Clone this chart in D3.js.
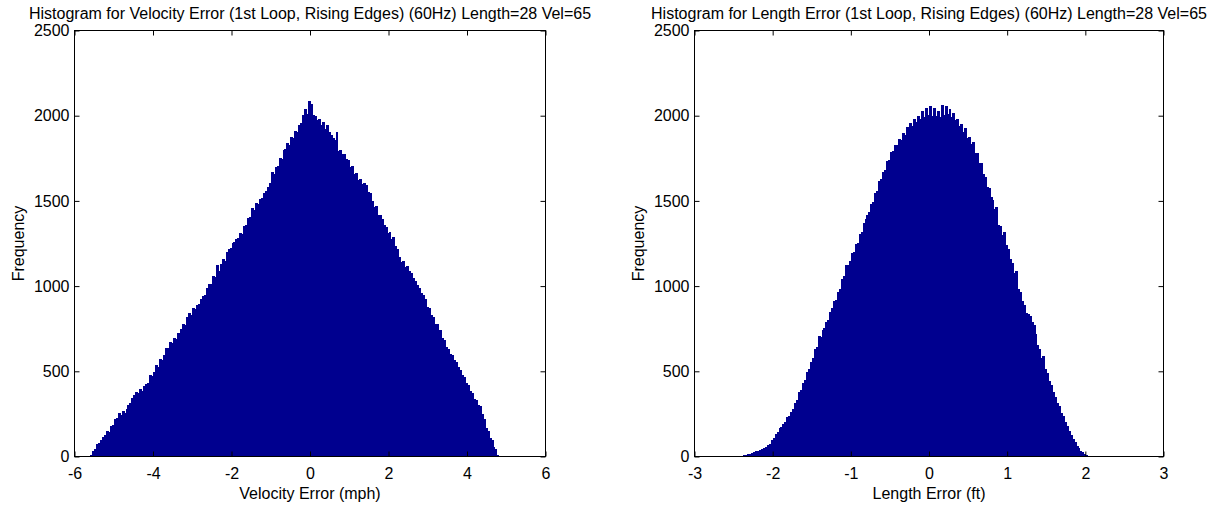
<!DOCTYPE html>
<html><head><meta charset="utf-8">
<script src="https://cdn.jsdelivr.net/npm/d3@7"></script>
<style>
body{margin:0;background:#fff}
text{font-family:"Liberation Sans",Arial,Helvetica,sans-serif;fill:#000}
</style>
</head><body>
<svg id="chart" width="1222" height="507"></svg>
<script>
// ---------- data ----------
const velStart = -5.6, velBinWidth = 0.05;
const velCounts = [
  8, 30, 44, 72, 80, 98, 116, 124, 152, 146,
  180, 184, 220, 226, 258, 246, 266, 256, 280, 300,
  316, 344, 358, 376, 372, 396, 384, 414, 428, 434,
  478, 474, 494, 536, 528, 570, 566, 598, 636, 636,
  670, 668, 698, 692, 724, 726, 746, 780, 770, 816,
  840, 832, 870, 866, 892, 896, 926, 940, 946, 990,
  1014, 1010, 1058, 1052, 1124, 1090, 1130, 1160, 1150, 1200,
  1218, 1226, 1252, 1256, 1276, 1282, 1314, 1308, 1352, 1356,
  1398, 1404, 1460, 1448, 1486, 1482, 1514, 1516, 1548, 1556,
  1584, 1606, 1668, 1656, 1700, 1704, 1750, 1748, 1796, 1802,
  1840, 1830, 1874, 1872, 1912, 1904, 1948, 1960, 2002, 2040,
  2010, 2084, 2070, 2006, 2000, 1976, 1980, 1944, 1962, 1922,
  1946, 1906, 1884, 1872, 1858, 1906, 1794, 1800, 1774, 1776,
  1746, 1740, 1700, 1702, 1656, 1666, 1624, 1630, 1602, 1604,
  1594, 1550, 1546, 1500, 1464, 1468, 1420, 1418, 1396, 1356,
  1346, 1312, 1316, 1278, 1286, 1236, 1218, 1168, 1140, 1150,
  1112, 1118, 1086, 1076, 1050, 1030, 1006, 990, 958, 946,
  926, 880, 874, 830, 816, 780, 780, 742, 742, 696,
  682, 642, 628, 604, 598, 568, 554, 524, 510, 476,
  466, 430, 420, 386, 372, 338, 334, 304, 296, 252,
  222, 170, 150, 108, 94, 56, 42, 10
];
const lenStart = -2.4, lenBinWidth = 0.025;
const lenCounts = [
  4, 9, 11, 15, 17, 23, 25, 32, 33, 39, 42, 49, 53, 66, 76, 98,
  110, 131, 143, 168, 172, 190, 200, 229, 236, 262, 280, 316, 334, 376, 392, 430,
  448, 494, 512, 556, 578, 628, 640, 706, 704, 744, 752, 790, 802, 848, 872, 912,
  920, 966, 982, 1040, 1060, 1122, 1126, 1146, 1192, 1198, 1248, 1254, 1308, 1318, 1370, 1392,
  1420, 1432, 1482, 1494, 1546, 1560, 1618, 1628, 1672, 1684, 1736, 1740, 1786, 1790, 1828, 1826,
  1864, 1858, 1896, 1888, 1932, 1920, 1958, 1942, 1980, 1962, 1998, 1982, 2030, 1994, 2044, 2002,
  2058, 2000, 2046, 1998, 2030, 1990, 2060, 2004, 2056, 2010, 2040, 1990, 2018, 1972, 1980, 1940,
  1950, 1902, 1926, 1870, 1876, 1832, 1846, 1780, 1780, 1722, 1720, 1660, 1640, 1582, 1578, 1524,
  1508, 1450, 1466, 1360, 1350, 1300, 1320, 1240, 1218, 1160, 1138, 1076, 1090, 982, 966, 910,
  890, 844, 836, 822, 790, 770, 716, 656, 628, 578, 590, 512, 490, 444, 420, 376,
  352, 316, 296, 258, 236, 204, 180, 150, 128, 100, 84, 62, 50, 34, 27, 15, 8, 3
];
const velTicksX = [-6, -4, -2, 0, 2, 4, 6];
const lenTicksX = [-3, -2, -1, 0, 1, 2, 3];
const yTicks = [0, 500, 1000, 1500, 2000, 2500];
const titles = [
  "Histogram for Velocity Error (1st Loop, Rising Edges) (60Hz) Length=28 Vel=65",
  "Histogram for Length Error (1st Loop, Rising Edges) (60Hz) Length=28 Vel=65"
];
const xLabels = ["Velocity Error (mph)", "Length Error (ft)"];
const yLabel = "Frequency";

// ---------- drawing ----------
const svg = d3.select("#chart");
const TOP = 30.5, BOTTOM = 456.5;
const BAR = "#00008f";
const FS = 16;
const fmt = d => String(d);   // plain hyphen-minus like MATLAB

function panel(cfg) {
  const x = d3.scaleLinear().domain(cfg.domain).range([cfg.left, cfg.right]);
  const y = d3.scaleLinear().domain([0, 2500]).range([BOTTOM, TOP]);
  const g = svg.append("g");

  const bins = cfg.counts.map((c, i) => ({
    x0: cfg.start + i * cfg.width,
    x1: cfg.start + (i + 1) * cfg.width,
    c
  }));
  g.append("g").attr("shape-rendering", "crispEdges")
    .selectAll("rect").data(bins).join("rect")
    .attr("x", d => x(d.x0))
    .attr("width", d => x(d.x1) - x(d.x0) + 1)
    .attr("y", d => y(d.c))
    .attr("height", d => y(0) - y(d.c))
    .attr("fill", BAR);

  // frame
  g.append("rect")
    .attr("x", cfg.left).attr("y", TOP)
    .attr("width", cfg.right - cfg.left).attr("height", BOTTOM - TOP)
    .attr("fill", "none").attr("stroke", "#000").attr("stroke-width", 1);

  const styleAxis = a => {
    a.select(".domain").remove();
    a.selectAll("line").attr("stroke", "#000");
    a.selectAll("text").style("font-size", FS + "px")
      .style("font-family", '"Liberation Sans", Arial, sans-serif');
  };
  g.append("g").attr("transform", `translate(0,${BOTTOM})`)
    .call(d3.axisBottom(x).tickValues(cfg.ticks).tickFormat(fmt).tickSize(-5).tickPadding(11))
    .call(styleAxis);
  g.append("g").attr("transform", `translate(0,${TOP})`)
    .call(d3.axisTop(x).tickValues(cfg.ticks).tickFormat("").tickSize(-5))
    .call(styleAxis);
  g.append("g").attr("transform", `translate(${cfg.left},0)`)
    .call(d3.axisLeft(y).tickValues(yTicks).tickFormat(fmt).tickSize(-5).tickPadding(5))
    .call(styleAxis);
  g.append("g").attr("transform", `translate(${cfg.right},0)`)
    .call(d3.axisRight(y).tickValues(yTicks).tickFormat("").tickSize(-5))
    .call(styleAxis);

  const cx = (cfg.left + cfg.right) / 2;
  g.append("text").attr("x", cx).attr("y", 18.5).attr("text-anchor", "middle")
    .style("font-size", FS + "px").text(cfg.title);
  g.append("text").attr("x", cx).attr("y", 499).attr("text-anchor", "middle")
    .style("font-size", FS + "px").text(cfg.xLabel);
  g.append("text").attr("transform", `translate(${cfg.left - 51},${(TOP + BOTTOM) / 2}) rotate(-90)`)
    .attr("text-anchor", "middle").style("font-size", FS + "px").text(yLabel);
}

panel({left: 74.5, right: 545.5, domain: [-6, 6], ticks: velTicksX,
  start: velStart, width: velBinWidth, counts: velCounts, title: titles[0], xLabel: xLabels[0]});
panel({left: 694.5, right: 1163.5, domain: [-3, 3], ticks: lenTicksX,
  start: lenStart, width: lenBinWidth, counts: lenCounts, title: titles[1], xLabel: xLabels[1]});
</script>
</body></html>
